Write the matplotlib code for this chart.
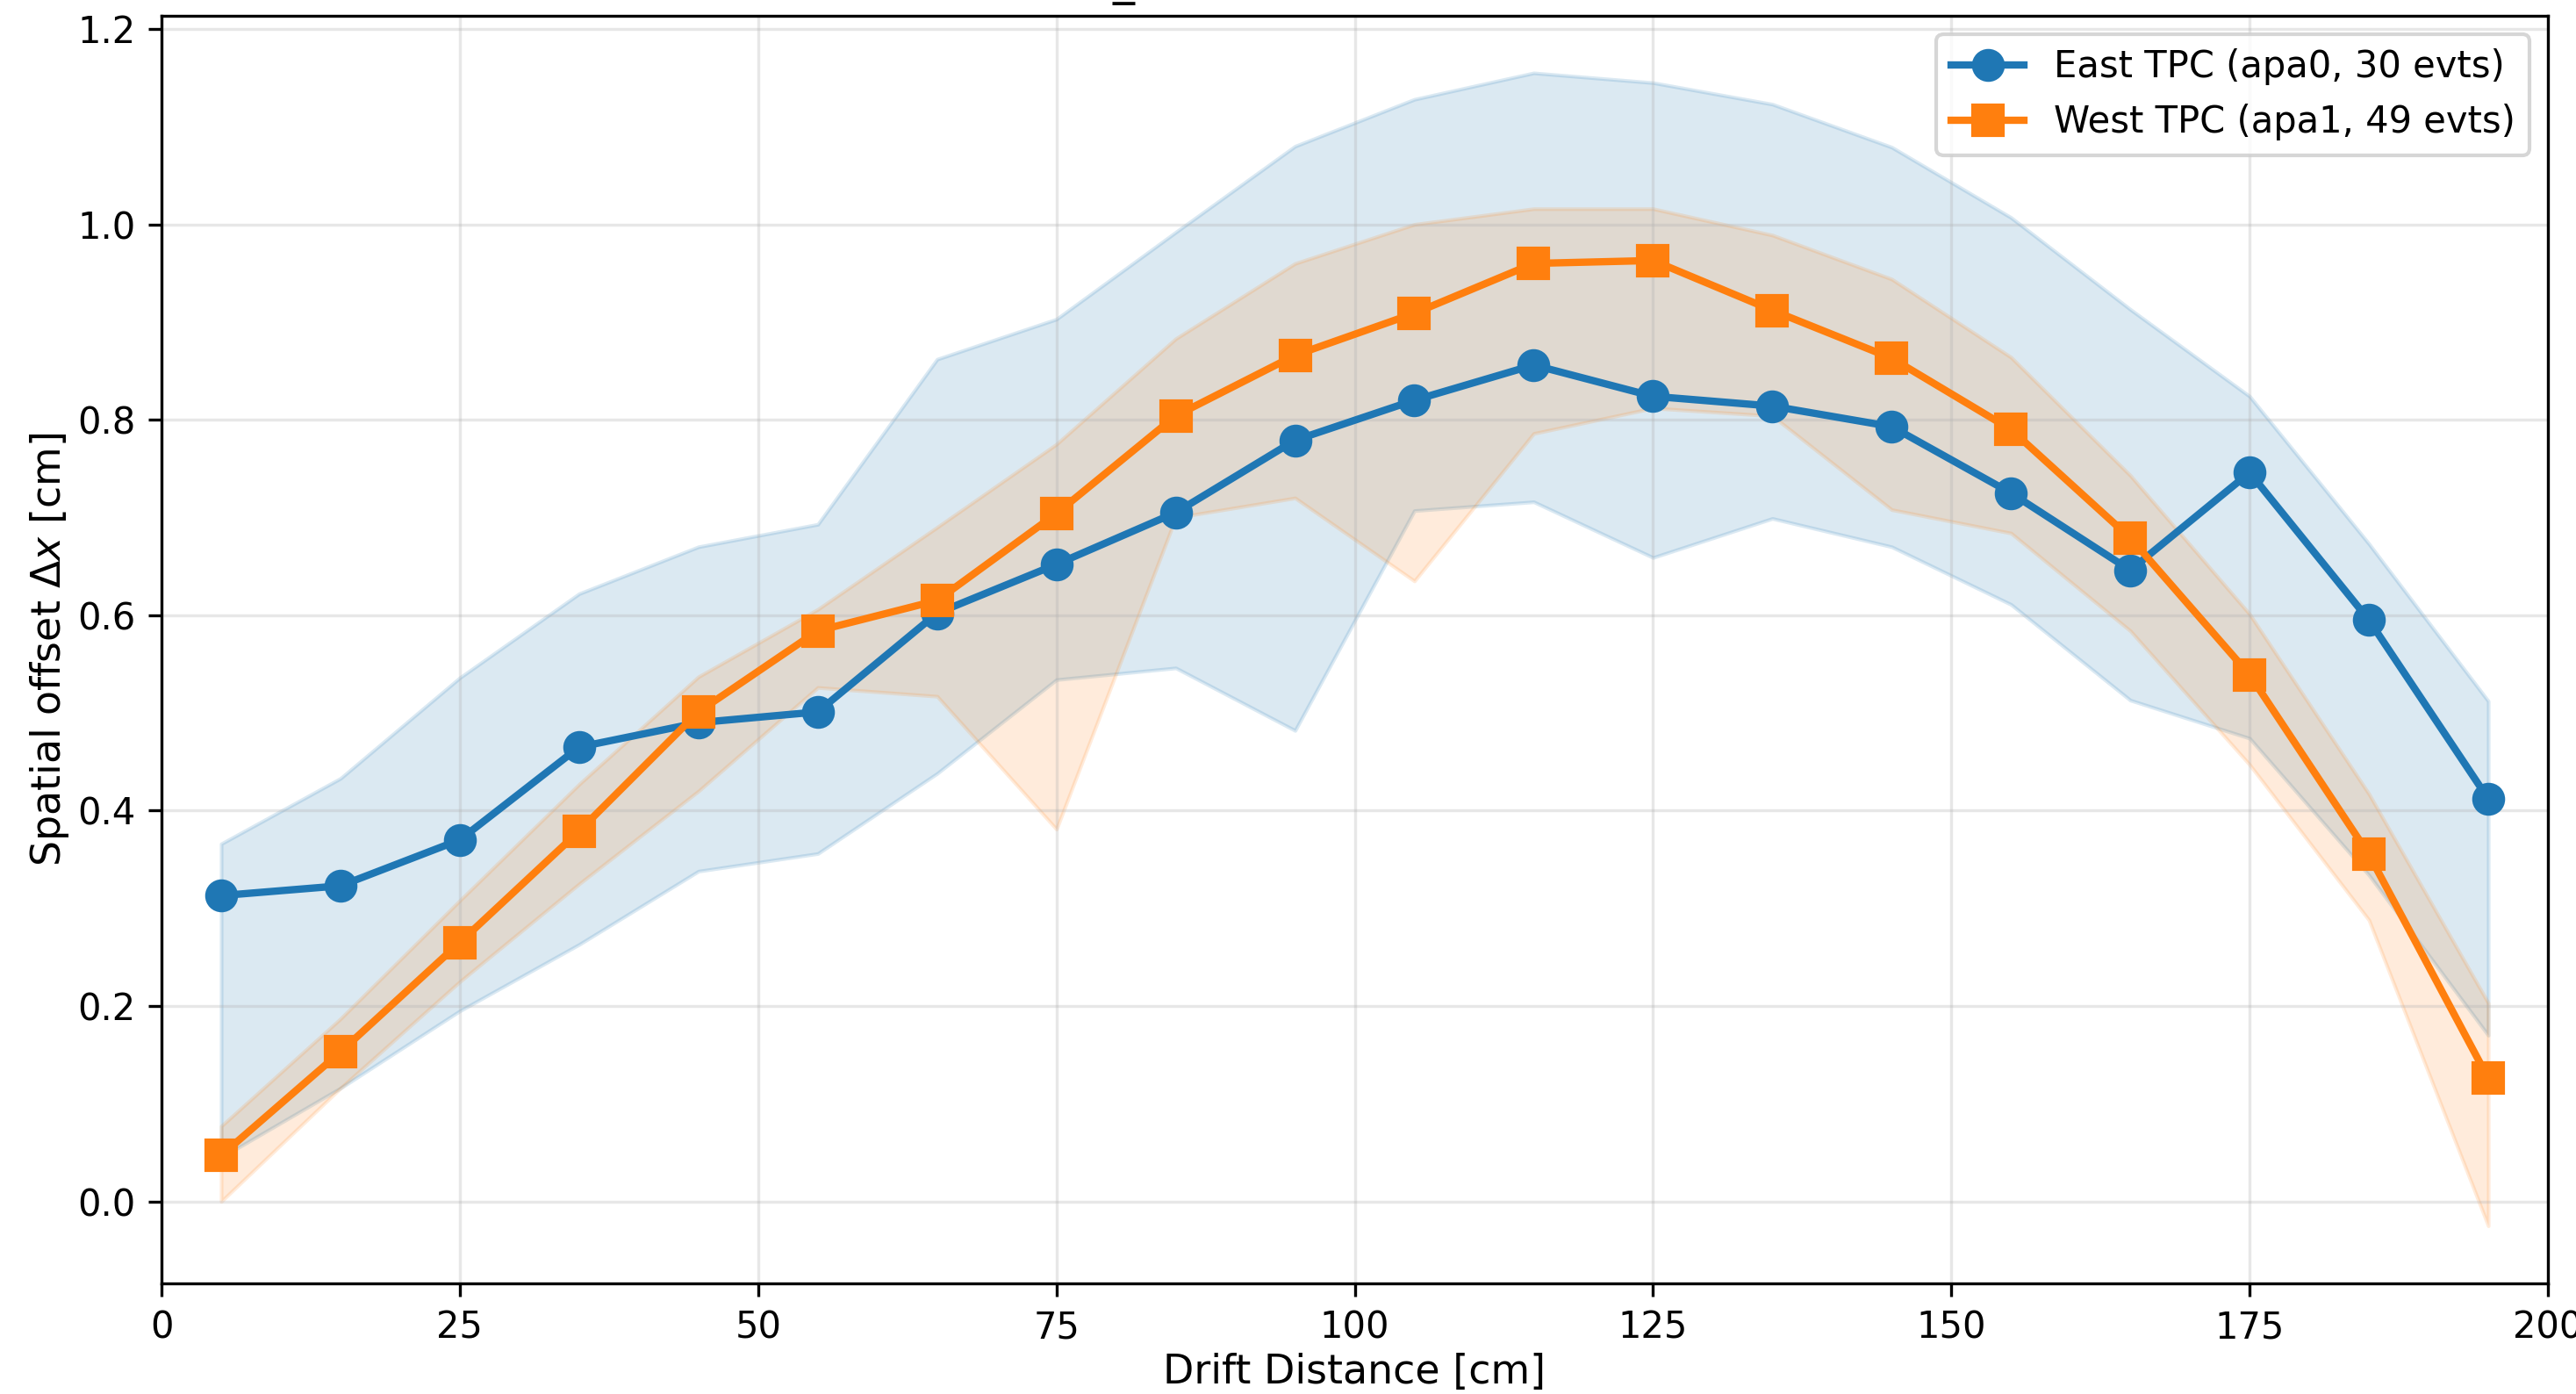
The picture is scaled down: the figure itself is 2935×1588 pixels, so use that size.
import numpy as np
import matplotlib.pyplot as plt

# drift distance bin centres [cm]
drift = [5, 15, 25, 35, 45, 55, 65, 75, 85, 95, 105, 115, 125, 135, 145, 155, 165, 175, 185, 195]

# East TPC (apa0): mean offset and band edges [cm]
east_mean = [0.313, 0.323, 0.370, 0.465, 0.490, 0.501, 0.602, 0.652, 0.705, 0.779,
             0.820, 0.856, 0.824, 0.814, 0.793, 0.725, 0.646, 0.746, 0.595, 0.412]
east_lo = [0.045, 0.116, 0.195, 0.263, 0.338, 0.356, 0.438, 0.534, 0.546, 0.482,
           0.707, 0.716, 0.659, 0.699, 0.670, 0.611, 0.513, 0.474, 0.334, 0.170]
east_hi = [0.366, 0.433, 0.536, 0.622, 0.670, 0.693, 0.862, 0.903, 0.992, 1.080,
           1.128, 1.155, 1.145, 1.123, 1.079, 1.007, 0.913, 0.824, 0.673, 0.512]

# West TPC (apa1)
west_mean = [0.047, 0.153, 0.265, 0.379, 0.501, 0.584, 0.615, 0.704, 0.804, 0.866,
             0.909, 0.960, 0.963, 0.912, 0.863, 0.790, 0.679, 0.539, 0.355, 0.126]
west_lo = [0.000, 0.116, 0.225, 0.325, 0.420, 0.526, 0.517, 0.381, 0.700, 0.720,
           0.635, 0.786, 0.812, 0.804, 0.708, 0.684, 0.584, 0.447, 0.288, -0.025]
west_hi = [0.077, 0.187, 0.308, 0.427, 0.537, 0.606, 0.690, 0.775, 0.883, 0.960,
           1.000, 1.016, 1.016, 0.989, 0.944, 0.864, 0.743, 0.601, 0.417, 0.203]

east_label = 'East TPC (apa0, 30 evts)'
west_label = 'West TPC (apa1, 49 evts)'

fig = plt.figure(figsize=(2935 / 300, 1588 / 300), dpi=300)
ax = fig.add_axes([0.0627, 0.0793, 0.9264, 0.9094])

ax.fill_between(drift, east_lo, east_hi, color='tab:blue', alpha=0.16)
ax.plot(drift, east_mean, '-o', color='tab:blue', lw=2, ms=8, label=east_label)

ax.fill_between(drift, west_lo, west_hi, color='tab:orange', alpha=0.15)
ax.plot(drift, west_mean, '-s', color='tab:orange', lw=2, ms=8, label=west_label)

ax.set_xlim(0, 200)
ax.set_ylim(-0.084, 1.2135)
ax.set_xticks([0, 25, 50, 75, 100, 125, 150, 175, 200])
ax.set_yticks([0.0, 0.2, 0.4, 0.6, 0.8, 1.0, 1.2])
ax.set_xlabel('Drift Distance [cm]', fontsize=11, labelpad=1.8)
ax.set_ylabel(r'Spatial offset $\Delta x$ [cm]', fontsize=11, labelpad=1.8)
ax.grid(True, alpha=0.3)
ax.legend(loc='upper right', fontsize=10)

# only the bottom of the title's underscore shows at the top edge
fig.text(1280 / 2935, 1.004, '_', ha='center', va='baseline', fontsize=12)

fig.savefig('out.png', dpi=300)
